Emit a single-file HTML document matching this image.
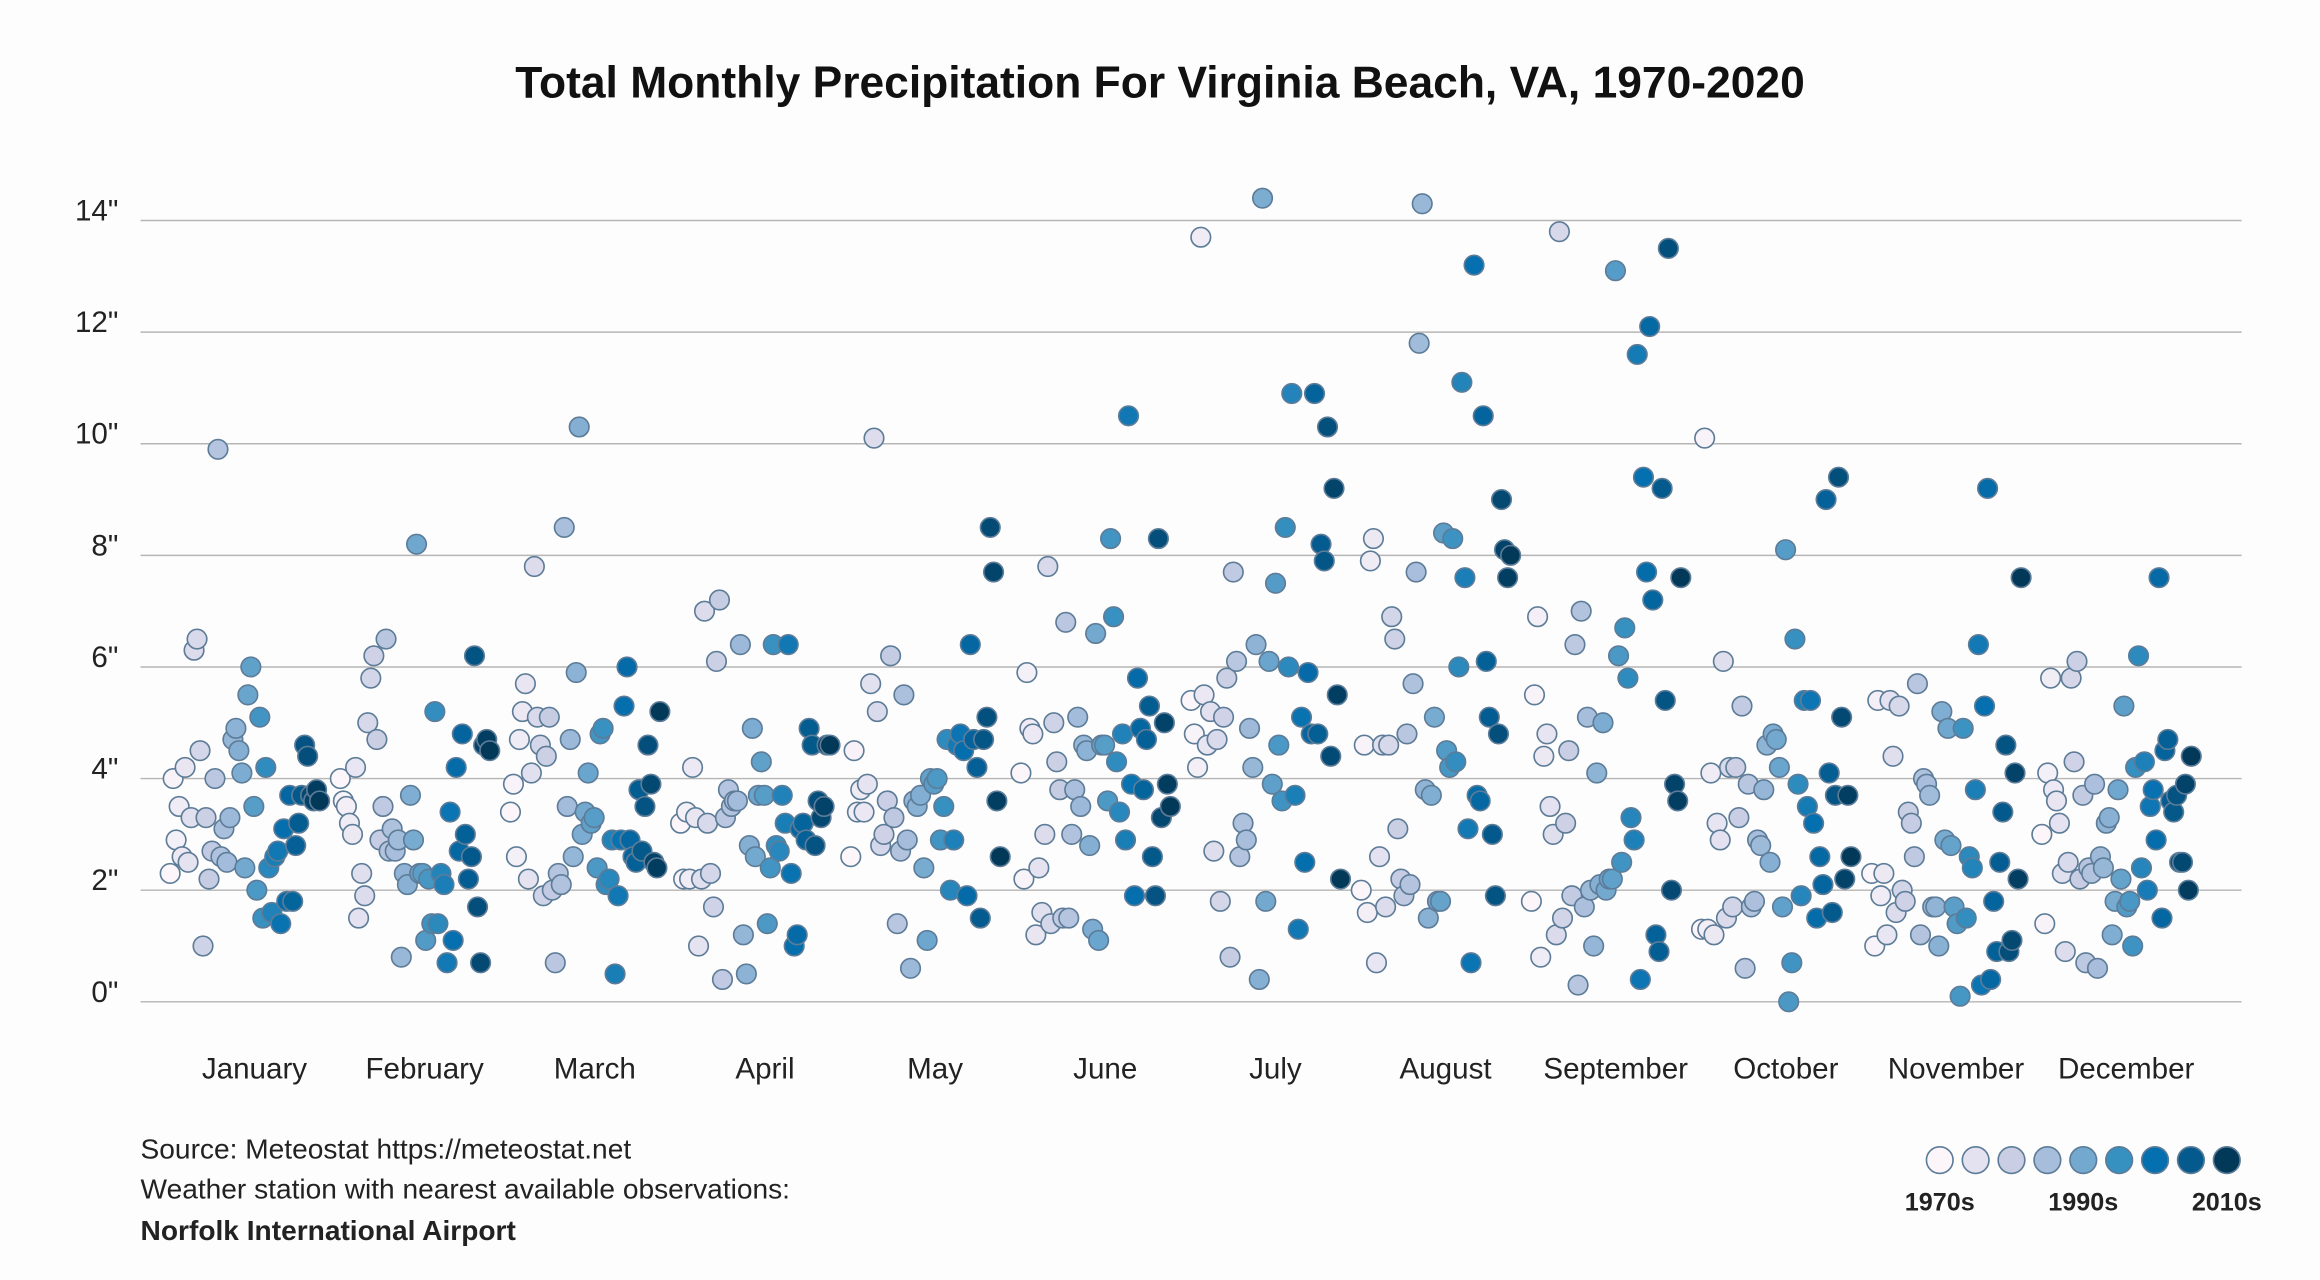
<!DOCTYPE html>
<html><head><meta charset="utf-8"><style>
html,body{margin:0;padding:0;background:#fff;}
svg{display:block;font-family:"Liberation Sans",sans-serif;}
</style></head><body>
<svg id="chart" width="2320" height="1280" viewBox="0 0 1568 865" preserveAspectRatio="none">
<rect x="0" y="0" width="1568" height="865" fill="#fefdfd"/>
<text x="784" y="66" text-anchor="middle" font-size="30" font-weight="bold" fill="#111">Total Monthly Precipitation For Virginia Beach, VA, 1970-2020</text>
<g id="grid"></g><g id="yticks"></g><g id="xlabels"></g><g id="marks"></g>
<g font-size="19" fill="#222">
<text x="95" y="783">Source: Meteostat https://meteostat.net</text>
<text x="95" y="810">Weather station with nearest available observations:</text>
<text x="95" y="838" font-weight="bold">Norfolk International Airport</text>
</g>
<g id="legend"></g>
</svg>
<script>
const months=["January","February","March","April","May","June","July","August","September","October","November","December"];
const yTicks=[0,2,4,6,8,10,12,14];
const legendLabels=["1970s","1990s","2010s"];
const jan=[2.3,4.0,2.9,3.5,2.6,4.2,2.5,3.3,6.3,6.5,4.5,1.0,3.3,2.2,2.7,4.0,9.9,2.6,3.1,2.5,3.3,4.7,4.9,4.5,4.1,2.4,5.5,6.0,3.5,2.0,5.1,1.5,4.2,2.4,1.6,2.6,2.7,1.4,3.1,1.8,3.7,1.8,2.8,3.2,3.7,4.6,4.4,3.7,3.6,3.8,3.6];
const feb=[4.0,3.6,3.5,3.2,3.0,4.2,1.5,2.3,1.9,5.0,5.8,6.2,4.7,2.9,3.5,6.5,2.7,3.1,2.7,2.9,0.8,2.3,2.1,3.7,2.9,8.2,2.3,2.3,1.1,2.2,1.4,5.2,1.4,2.3,2.1,0.7,3.4,1.1,4.2,2.7,4.8,3.0,2.2,2.6,6.2,1.7,0.7,4.6,4.7,4.5];
const mar=[3.4,3.9,2.6,4.7,5.2,5.7,2.2,4.1,7.8,5.1,4.6,1.9,4.4,5.1,2.0,0.7,2.3,2.1,8.5,3.5,4.7,2.6,5.9,10.3,3.0,3.4,4.1,3.2,3.3,2.4,4.8,4.9,2.1,2.2,2.9,0.5,1.9,2.9,5.3,6.0,2.9,2.6,2.5,3.8,2.7,3.5,4.6,3.9,2.5,2.4,5.2];
const apr=[3.2,2.2,3.4,2.2,4.2,3.3,1.0,2.2,7.0,3.2,2.3,1.7,6.1,7.2,0.4,3.3,3.8,3.5,3.6,3.6,6.4,1.2,0.5,2.8,4.9,2.6,3.7,4.3,3.7,1.4,2.4,6.4,2.8,2.7,3.7,3.2,6.4,2.3,1.0,1.2,3.1,3.2,2.9,4.9,4.6,2.8,3.6,3.3,3.5,4.6,4.6];
const may=[2.6,4.5,3.4,3.8,3.4,3.9,5.7,10.1,5.2,2.8,3.0,3.6,6.2,3.3,1.4,2.7,5.5,2.9,0.6,3.6,3.5,3.7,2.4,1.1,4.0,3.9,4.0,2.9,3.5,4.7,2.0,2.9,4.6,4.8,4.5,1.9,6.4,4.7,4.2,1.5,4.7,5.1,8.5,7.7,3.6,2.6];
const jun=[4.1,2.2,5.9,4.9,4.8,1.2,2.4,1.6,3.0,7.8,1.4,5.0,4.3,3.8,1.5,6.8,1.5,3.0,3.8,5.1,3.5,4.6,4.5,2.8,1.3,6.6,1.1,4.6,4.6,3.6,8.3,6.9,4.3,3.4,4.8,2.9,10.5,3.9,1.9,5.8,4.9,3.8,4.7,5.3,2.6,1.9,8.3,3.3,5.0,3.9,3.5];
const jul=[5.4,4.8,4.2,13.7,5.5,4.6,5.2,2.7,4.7,1.8,5.1,5.8,0.8,7.7,6.1,2.6,3.2,2.9,4.9,4.2,6.4,0.4,14.4,1.8,6.1,3.9,7.5,4.6,3.6,8.5,6.0,10.9,3.7,1.3,5.1,2.5,5.9,4.8,10.9,4.8,8.2,7.9,10.3,4.4,9.2,5.5,2.2];
const aug=[2.0,4.6,1.6,7.9,8.3,0.7,2.6,4.6,1.7,4.6,6.9,6.5,3.1,2.2,1.9,4.8,2.1,5.7,7.7,11.8,14.3,3.8,1.5,3.7,5.1,1.8,1.8,8.4,4.5,4.2,8.3,4.3,6.0,11.1,7.6,3.1,0.7,13.2,3.7,3.6,10.5,6.1,5.1,3.0,1.9,4.8,9.0,8.1,7.6,8.0];
const sep=[1.8,5.5,6.9,0.8,4.4,4.8,3.5,3.0,1.2,13.8,1.5,3.2,4.5,1.9,6.4,0.3,7.0,1.7,5.1,2.0,1.0,4.1,2.1,5.0,2.0,2.2,2.2,13.1,6.2,2.5,6.7,5.8,3.3,2.9,11.6,0.4,9.4,7.7,12.1,7.2,1.2,0.9,9.2,5.4,13.5,2.0,3.9,3.6,7.6];
const oct=[1.3,10.1,1.3,4.1,1.2,3.2,2.9,6.1,1.5,4.2,1.7,4.2,3.3,5.3,0.6,3.9,1.7,1.8,2.9,2.8,3.8,4.6,2.5,4.8,4.7,4.2,1.7,8.1,0.0,0.7,6.5,3.9,1.9,5.4,3.5,5.4,3.2,1.5,2.6,2.1,9.0,4.1,1.6,3.7,9.4,5.1,2.2,3.7,2.6];
const nov=[2.3,1.0,5.4,1.9,2.3,1.2,5.4,4.4,1.6,5.3,2.0,1.8,3.4,3.2,2.6,5.7,1.2,4.0,3.9,3.7,1.7,1.7,1.0,5.2,2.9,4.9,2.8,1.7,1.4,0.1,4.9,1.5,2.6,2.4,3.8,6.4,0.3,5.3,9.2,0.4,1.8,0.9,2.5,3.4,4.6,0.9,1.1,4.1,2.2,7.6];
const dec=[3.0,1.4,4.1,5.8,3.8,3.6,3.2,2.3,0.9,2.5,5.8,4.3,6.1,2.2,3.7,0.7,2.4,2.3,3.9,0.6,2.6,2.4,3.2,3.3,1.2,1.8,3.8,2.2,5.3,1.7,1.8,1.0,4.2,6.2,2.4,4.3,2.0,3.5,3.8,2.9,7.6,1.5,4.5,4.7,3.6,3.4,3.7,2.5,2.5,3.9,2.0,4.4];
const series=[jan,feb,mar,apr,may,jun,jul,aug,sep,oct,nov,dec];
const palette=["#fcf6fa","#e4e2f0","#c9cee4","#a6bddb","#74a9cf","#3690c0","#0570b0","#045a8d","#023858"];

const NS="http://www.w3.org/2000/svg";
const y0=677, pxPerIn=(677-149)/14;
function yScale(v){return y0-v*pxPerIn;}
function monthCenter(i){return 172+i*115;}
function xScale(m,k,n){return monthCenter(m)-57+(n>1?k*101/(n-1):50);}
function hex(c){return [1,3,5].map(i=>parseInt(c.substr(i,2),16));}
function color(t){const p=t*(palette.length-1);const i=Math.min(Math.floor(p),palette.length-2);const f=p-i;
 const a=hex(palette[i]),b=hex(palette[i+1]);return "rgb("+a.map((v,j)=>Math.round(v+(b[j]-v)*f)).join(",")+")";}
function mk(tag,attrs,parent){const e=document.createElementNS(NS,tag);for(const k in attrs)e.setAttribute(k,attrs[k]);parent.appendChild(e);return e;}

const grid=document.getElementById("grid"),yt=document.getElementById("yticks");
yTicks.forEach(v=>{
 const l=mk("line",{x1:95,x2:1515,y1:yScale(v),y2:yScale(v),stroke:"#b5b5b5","stroke-width":1},grid);
 
 
 const t=mk("text",{x:80,y:yScale(v),"text-anchor":"end","font-size":20,fill:"#222"},yt);
 t.textContent=v+'"';
 
 
});
const xl=document.getElementById("xlabels");
months.forEach((m,i)=>{
 const t=mk("text",{x:monthCenter(i),y:729,"text-anchor":"middle","font-size":20,fill:"#222"},xl);
 t.textContent=m;
 
 
});
const marks=document.getElementById("marks");
series.forEach((arr,m)=>{
 arr.forEach((v,k)=>{
  const t=arr.length>1?k/(arr.length-1):0;
  const c=mk("circle",{cx:xScale(m,k,arr.length),cy:yScale(v),r:6.6,fill:color(t),stroke:"#5d7c98","stroke-width":1.1},marks);
  
  
 });
});
const lg=document.getElementById("legend");
palette.forEach((p,i)=>{
 const c=mk("circle",{cx:1311+i*24.25,cy:784,r:9,fill:p,stroke:"#5d7c98","stroke-width":1.1},lg);
 
 
});
legendLabels.forEach((s,i)=>{
 const t=mk("text",{x:1311+i*97,y:818,"text-anchor":"middle","font-size":17,"font-weight":"bold",fill:"#222"},lg);
 t.textContent=s;
 
 
});
</script>
</body></html>
